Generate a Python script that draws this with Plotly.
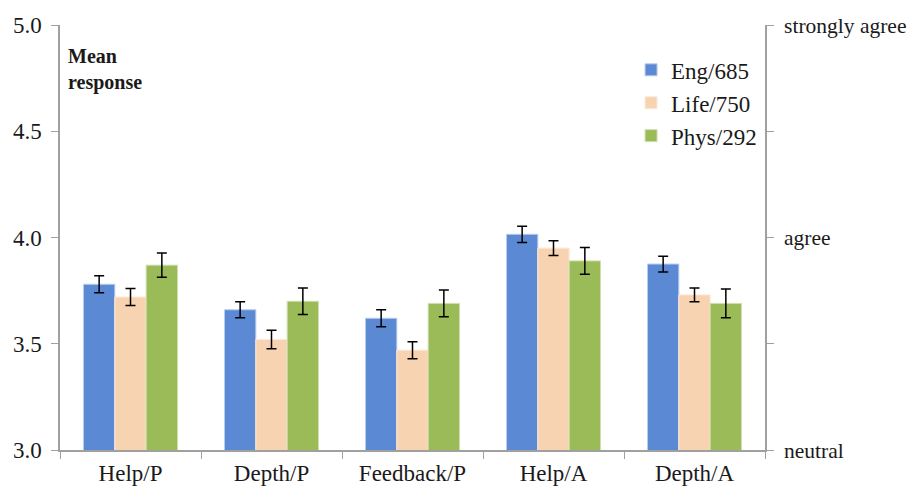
import plotly.graph_objects as go

categories = ["Help/P", "Depth/P", "Feedback/P", "Help/A", "Depth/A"]
series_names = ["Eng/685", "Life/750", "Phys/292"]
eng = [3.78, 3.66, 3.62, 4.015, 3.875]
eng_err = [0.04, 0.038, 0.04, 0.038, 0.037]
life = [3.72, 3.52, 3.47, 3.95, 3.73]
life_err = [0.04, 0.043, 0.04, 0.035, 0.032]
phys = [3.87, 3.70, 3.69, 3.89, 3.69]
phys_err = [0.057, 0.062, 0.063, 0.063, 0.068]
left_ticks = [3.0, 3.5, 4.0, 4.5, 5.0]
left_labels = ["3.0", "3.5", "4.0", "4.5", "5.0"]
right_labels = ["neutral", "", "agree", "", "strongly agree"]

colors = ["#5B89D4", "#F8D3B1", "#9BBB59"]
edges = ["#B9CDEE", "#FCE9D8", "#CFE0AE"]
FONT = "Liberation Serif, Times New Roman, serif"

fig = go.Figure()
for i, (name, vals, errs) in enumerate(zip(series_names, [eng, life, phys], [eng_err, life_err, phys_err])):
    fig.add_trace(go.Bar(
        x=categories, y=vals, name=name,
        marker=dict(color=colors[i], line=dict(color=edges[i], width=1)),
        error_y=dict(type="data", array=errs, visible=True, color="black", thickness=1.5, width=5),
        legendgroup=name,
    ))

# invisible trace to create right axis
fig.add_trace(go.Scatter(x=categories, y=[None]*5, yaxis="y2", showlegend=False, hoverinfo="skip"))

axis_col = "#A0A0A0"
fig.update_layout(
    width=909, height=478,
    margin=dict(l=52, r=152, t=17, b=36, autoexpand=False),
    paper_bgcolor="white", plot_bgcolor="white",
    font=dict(family=FONT, size=23, color="#1a1a1a"),
    barmode="group", bargap=0.333, bargroupgap=0,
    xaxis=dict(
        showline=True, linecolor=axis_col, linewidth=1.5,
        ticks="outside", tickson="boundaries", ticklen=7, tickcolor=axis_col,
        showgrid=False, tickfont=dict(size=23), automargin=False,
        ticklabelstandoff=2,
    ),
    yaxis=dict(
        range=[3.0, 5.0], tickvals=left_ticks, ticktext=left_labels,
        showline=True, linecolor=axis_col, linewidth=1.5,
        ticks="outside", ticklen=7, tickcolor=axis_col,
        showgrid=False, zeroline=False, tickfont=dict(size=23), automargin=False,
        ticklabelstandoff=5,
    ),
    yaxis2=dict(
        range=[3.0, 5.0], tickvals=left_ticks, ticktext=right_labels,
        overlaying="y", side="right",
        showline=True, linecolor=axis_col, linewidth=1.5,
        ticks="outside", ticklen=7, tickcolor=axis_col,
        showgrid=False, zeroline=False, tickfont=dict(size=21.5), automargin=False,
        ticklabelstandoff=6,
    ),
    legend=dict(
        x=0.81, y=0.945, xanchor="left", yanchor="top",
        bgcolor="rgba(0,0,0,0)", font=dict(size=23),
        traceorder="grouped", tracegroupgap=0,
        itemwidth=30,
    ),
    annotations=[dict(
        x=0.008, y=0.958, xref="paper", yref="paper", xanchor="left", yanchor="top",
        text="<b>Mean<br>response</b>", showarrow=False, align="left",
        font=dict(size=20, family=FONT, color="#1a1a1a"),
    )],
)

fig.write_html("out.html")
